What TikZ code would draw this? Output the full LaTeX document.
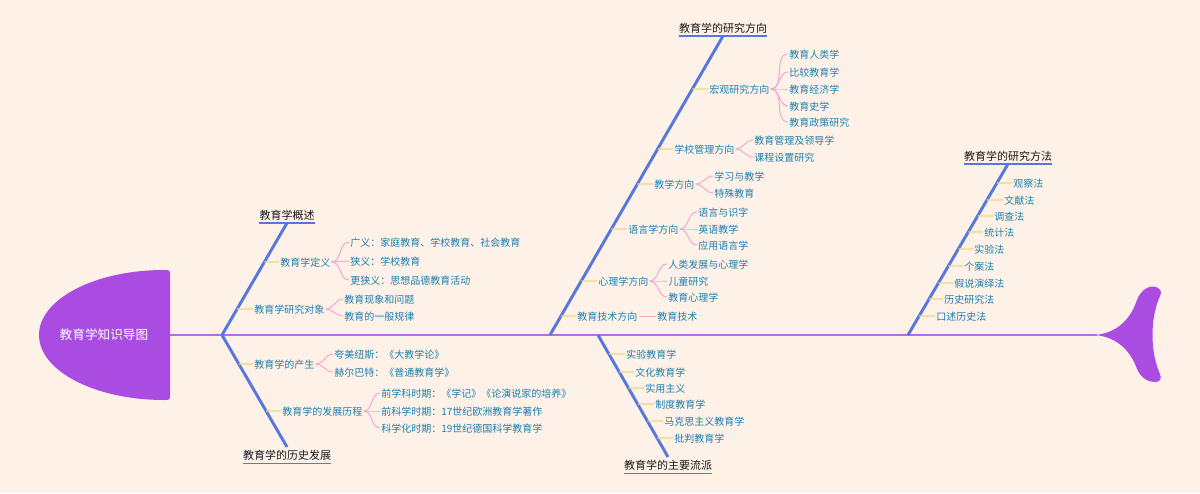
\documentclass[tikz,border=0pt]{standalone}
\usepackage{fontspec}
\setmainfont{Noto Sans CJK SC}
\definecolor{bg}{RGB}{254,241,231}
\definecolor{headc}{RGB}{170,76,226}
\definecolor{spinec}{RGB}{182,108,226}
\definecolor{bonec}{RGB}{86,120,220}
\definecolor{stubc}{RGB}{240,215,120}
\definecolor{pinkc}{RGB}{244,168,204}
\definecolor{itemc}{RGB}{28,128,176}
\definecolor{labc}{RGB}{25,25,25}
\newcommand{\stubto}[3]{\path (#1.west) ++(-60,0) coordinate (tmpst);
  \draw[stub] (#1.west) -- (intersection of #2--#3 and #1.west--tmpst);}
\begin{document}
\begin{tikzpicture}[x=0.75pt,y=-0.75pt,
  item/.style={anchor=west,inner xsep=0.8pt,inner ysep=0pt,text=itemc,
    text height=0.8em,text depth=0.2em,font=\fontsize{7.5}{9}\selectfont},
  bonelab/.style={inner xsep=0pt,inner ysep=1pt,text=labc,
    text height=0.85em,text depth=0.15em,font=\fontsize{8.25}{10}\selectfont},
  bone/.style={draw=bonec,line width=2.2pt},
  uline/.style={draw=bonec,line width=1.2pt},
  stub/.style={draw=stubc,line width=0.8pt},
  twig/.style={draw=pinkc,line width=0.75pt},
  spine/.style={draw=spinec,line width=1.1pt},
]
\fill[bg] (0,0) rectangle (1200,493);
\useasboundingbox (0,0) rectangle (1200,493);

% head and tail
\fill[headc] (164,270) arc[start angle=270,end angle=90,x radius=125,y radius=65]
  .. controls (170,400) .. (170,394) -- (170,276) .. controls (170,270) .. cycle;
\fill[headc] (1095,335) .. controls (1118,333) and (1131,318) .. (1137,300)
  .. controls (1141,289) and (1150,285) .. (1156,287)
  .. controls (1161,289) and (1162,292) .. (1160,296)
  .. controls (1150,318) and (1150,352) .. (1160,374)
  .. controls (1162,379) and (1160,382) .. (1155,382)
  .. controls (1148,382) and (1141,378) .. (1137,369)
  .. controls (1131,352) and (1118,337) .. (1095,335) -- cycle;
\node[text=white,font=\fontsize{9.5}{11}\selectfont] (head) at (104,335) {教育学知识导图};
\coordinate (headE) at (170,335);
\coordinate (tailW) at (1097,335);
\draw[spine] (headE) -- (tailW);

% bone start points
\coordinate (b1s) at (222,335);
\coordinate (b2s) at (222,335);
\coordinate (b3s) at (550,335);
\coordinate (b4s) at (598,335);
\coordinate (b5s) at (908,335);
\coordinate (b1t) at (287,223);
\coordinate (b2t) at (287,447);
\coordinate (b3t) at (723,36);
\coordinate (b4t) at (668,457);
\coordinate (b5t) at (1008,164);

% bone labels
\node[bonelab,anchor=south] (B1) at (b1t) {教育学概述};
\node[bonelab,anchor=north] (B2) at (b2t) {教育学的历史发展};
\node[bonelab,anchor=south] (B3) at (b3t) {教育学的研究方向};
\node[bonelab,anchor=north] (B4) at (b4t) {教育学的主要流派};
\node[bonelab,anchor=south] (B5) at (b5t) {教育学的研究方法};
\foreach \b in {B1,B2,B3,B4,B5} {\draw[uline] (\b.south west) -- (\b.south east);}
\draw[bone] (b1s) -- (B1.south);
\draw[bone] (b2s) -- (B2.north);
\draw[bone] (b3s) -- (B3.south);
\draw[bone] (b4s) -- (B4.north);
\draw[bone] (b5s) -- (B5.south);

% bone 1
\node[item] (d1) at (279,262) {教育学定义};
\node[item] (d1a) at (349,242) {广义：家庭教育、学校教育、社会教育};
\node[item] (d1b) at (349,261) {狭义：学校教育};
\node[item] (d1c) at (349,280) {更狭义：思想品德教育活动};
\node[item] (d2) at (253,309) {教育学研究对象};
\node[item] (d2a) at (343,299) {教育现象和问题};
\node[item] (d2b) at (343,316) {教育的一般规律};
\stubto{d1}{b1s}{b1t}
\stubto{d2}{b1s}{b1t}
\foreach \c in {d1a,d1b,d1c} {\draw[twig] (d1.east) to[out=0,in=180] (\c.west);}
\foreach \c in {d2a,d2b} {\draw[twig] (d2.east) to[out=0,in=180] (\c.west);}

% bone 2
\node[item] (e1) at (253,364) {教育学的产生};
\node[item] (e1a) at (333,354) {夸美纽斯：《大教学论》};
\node[item] (e1b) at (333,372) {赫尔巴特：《普通教育学》};
\node[item] (e2) at (281,411) {教育学的发展历程};
\node[item] (e2a) at (380,393) {前学科时期：《学记》《论演说家的培养》};
\node[item] (e2b) at (380,411) {前科学时期：17世纪欧洲教育学著作};
\node[item] (e2c) at (380,428) {科学化时期：19世纪德国科学教育学};
\stubto{e1}{b2s}{b2t}
\stubto{e2}{b2s}{b2t}
\foreach \c in {e1a,e1b} {\draw[twig] (e1.east) to[out=0,in=180] (\c.west);}
\foreach \c in {e2a,e2b,e2c} {\draw[twig] (e2.east) to[out=0,in=180] (\c.west);}

% bone 3
\node[item] (f1) at (708,89) {宏观研究方向};
\node[item] (f1a) at (788,54) {教育人类学};
\node[item] (f1b) at (788,72) {比较教育学};
\node[item] (f1c) at (788,89) {教育经济学};
\node[item] (f1d) at (788,106) {教育史学};
\node[item] (f1e) at (788,122) {教育政策研究};
\node[item] (f2) at (673,149) {学校管理方向};
\node[item] (f2a) at (753,140) {教育管理及领导学};
\node[item] (f2b) at (753,157) {课程设置研究};
\node[item] (f3) at (653,184) {教学方向};
\node[item] (f3a) at (713,176) {学习与教学};
\node[item] (f3b) at (713,193) {特殊教育};
\node[item] (f4) at (627,229) {语言学方向};
\node[item] (f4a) at (697,212) {语言与识字};
\node[item] (f4b) at (697,229) {英语教学};
\node[item] (f4c) at (697,245) {应用语言学};
\node[item] (f5) at (597,281) {心理学方向};
\node[item] (f5a) at (667,264) {人类发展与心理学};
\node[item] (f5b) at (667,281) {儿童研究};
\node[item] (f5c) at (667,297) {教育心理学};
\node[item] (f6) at (576,316) {教育技术方向};
\node[item] (f6a) at (656,316) {教育技术};
\foreach \p in {f1,f2,f3,f4,f5,f6} {\stubto{\p}{b3s}{b3t}}
\foreach \c in {f1a,f1b,f1c,f1d,f1e} {\draw[twig] (f1.east) to[out=0,in=180] (\c.west);}
\foreach \c in {f2a,f2b} {\draw[twig] (f2.east) to[out=0,in=180] (\c.west);}
\foreach \c in {f3a,f3b} {\draw[twig] (f3.east) to[out=0,in=180] (\c.west);}
\foreach \c in {f4a,f4b,f4c} {\draw[twig] (f4.east) to[out=0,in=180] (\c.west);}
\foreach \c in {f5a,f5b,f5c} {\draw[twig] (f5.east) to[out=0,in=180] (\c.west);}
\draw[twig] (f6.east) -- (f6a.west);

% bone 4
\node[item] (g1) at (625,354) {实验教育学};
\node[item] (g2) at (634,372) {文化教育学};
\node[item] (g3) at (644,388) {实用主义};
\node[item] (g4) at (654,404) {制度教育学};
\node[item] (g5) at (663,421) {马克思主义教育学};
\node[item] (g6) at (673,438) {批判教育学};
\foreach \p in {g1,g2,g3,g4,g5,g6} {\stubto{\p}{b4s}{b4t}}

% bone 5
\node[item] (h1) at (1012,183) {观察法};
\node[item] (h2) at (1003,200) {文献法};
\node[item] (h3) at (993,216) {调查法};
\node[item] (h4) at (983,232) {统计法};
\node[item] (h5) at (973,249) {实验法};
\node[item] (h6) at (963,266) {个案法};
\node[item] (h7) at (953,283) {假说演绎法};
\node[item] (h8) at (943,299) {历史研究法};
\node[item] (h9) at (935,316) {口述历史法};
\foreach \p in {h1,h2,h3,h4,h5,h6,h7,h8,h9} {\stubto{\p}{b5s}{b5t}}
\end{tikzpicture}
\end{document}
